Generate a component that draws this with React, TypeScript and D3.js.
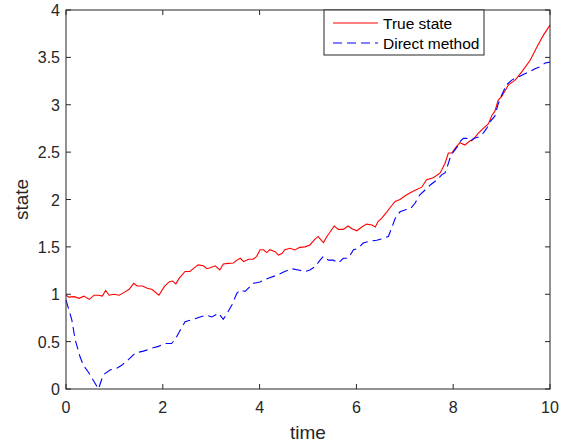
import React from 'react';
import * as d3 from 'd3';

// true state
const trueTime = [0, 0.06, 0.17, 0.27, 0.37, 0.48, 0.58, 0.68, 0.75, 0.82, 0.89, 0.99, 1.1, 1.2, 1.3, 1.4, 1.47, 1.58, 1.68, 1.78, 1.92, 2.03, 2.13, 2.2, 2.27, 2.34, 2.46, 2.56, 2.63, 2.73, 2.84, 2.91, 2.98, 3.08, 3.18, 3.25, 3.35, 3.46, 3.53, 3.6, 3.67, 3.77, 3.87, 3.94, 4.01, 4.08, 4.15, 4.21, 4.32, 4.39, 4.46, 4.52, 4.63, 4.73, 4.83, 4.94, 5.04, 5.14, 5.21, 5.28, 5.32, 5.39, 5.46, 5.54, 5.63, 5.73, 5.83, 5.9, 6.01, 6.11, 6.21, 6.32, 6.39, 6.45, 6.52, 6.63, 6.69, 6.8, 6.9, 7.04, 7.18, 7.35, 7.45, 7.59, 7.73, 7.83, 7.9, 7.97, 8.07, 8.14, 8.24, 8.35, 8.41, 8.52, 8.66, 8.73, 8.8, 8.86, 8.93, 9.0, 9.14, 9.28, 9.42, 9.59, 9.73, 9.87, 10];
const trueState = [0.99, 0.97, 0.975, 0.957, 0.98, 0.946, 0.99, 0.99, 0.98, 1.04, 0.99, 1.0, 0.99, 1.02, 1.05, 1.115, 1.087, 1.087, 1.063, 1.05, 0.99, 1.08, 1.13, 1.14, 1.11, 1.17, 1.24, 1.24, 1.27, 1.31, 1.3, 1.27, 1.28, 1.3, 1.256, 1.32, 1.326, 1.33, 1.36, 1.38, 1.344, 1.37, 1.37, 1.4, 1.47, 1.47, 1.44, 1.47, 1.45, 1.414, 1.43, 1.47, 1.485, 1.467, 1.495, 1.5, 1.52, 1.58, 1.61, 1.565, 1.545, 1.61, 1.66, 1.72, 1.685, 1.685, 1.72, 1.695, 1.67, 1.71, 1.74, 1.73, 1.71, 1.77, 1.8, 1.87, 1.91, 1.98, 2.0, 2.05, 2.09, 2.13, 2.21, 2.23, 2.28, 2.38, 2.49, 2.49, 2.56, 2.6, 2.575, 2.62, 2.63, 2.7, 2.77, 2.8, 2.89, 2.93, 3.05, 3.085, 3.21, 3.26, 3.35, 3.47, 3.61, 3.74, 3.84];

// direct method estimate
const directTime = [0, 0.12, 0.19, 0.29, 0.36, 0.46, 0.56, 0.67, 0.77, 0.91, 1.05, 1.15, 1.29, 1.43, 1.6, 1.77, 1.91, 2.05, 2.18, 2.25, 2.36, 2.46, 2.6, 2.77, 2.91, 3.01, 3.15, 3.25, 3.33, 3.43, 3.53, 3.6, 3.7, 3.8, 3.87, 4.01, 4.18, 4.35, 4.52, 4.66, 4.8, 4.94, 5.04, 5.14, 5.25, 5.32, 5.42, 5.52, 5.63, 5.73, 5.83, 5.94, 6.04, 6.14, 6.28, 6.42, 6.56, 6.66, 6.73, 6.8, 6.9, 7.0, 7.11, 7.21, 7.31, 7.42, 7.52, 7.62, 7.69, 7.76, 7.83, 7.88, 7.93, 8.0, 8.09, 8.14, 8.21, 8.28, 8.35, 8.42, 8.52, 8.62, 8.69, 8.76, 8.86, 8.93, 9.0, 9.1, 9.21, 9.28, 9.38, 9.49, 9.59, 9.69, 9.79, 9.9, 10];
const directState = [0.94, 0.73, 0.52, 0.34, 0.25, 0.18, 0.095, 0.0, 0.15, 0.2, 0.22, 0.25, 0.31, 0.38, 0.4, 0.43, 0.45, 0.48, 0.48, 0.52, 0.62, 0.71, 0.73, 0.76, 0.78, 0.76, 0.8, 0.735, 0.8, 0.89, 1.01, 1.045, 1.03, 1.08, 1.115, 1.13, 1.17, 1.2, 1.24, 1.27, 1.256, 1.24, 1.256, 1.29, 1.36, 1.4, 1.36, 1.36, 1.33, 1.38, 1.38, 1.47, 1.485, 1.54, 1.56, 1.57, 1.59, 1.61, 1.7, 1.8, 1.87, 1.89, 1.9, 1.96, 2.05, 2.1, 2.15, 2.19, 2.22, 2.26, 2.28, 2.35, 2.43, 2.5, 2.56, 2.61, 2.645, 2.645, 2.61, 2.645, 2.66, 2.7, 2.75, 2.82, 2.88, 3.01, 3.1, 3.21, 3.26, 3.28, 3.3, 3.33, 3.35, 3.38, 3.4, 3.44, 3.45];

const xTicks = [0, 2, 4, 6, 8, 10];
const yTicks = [0, 0.5, 1, 1.5, 2, 2.5, 3, 3.5, 4];
const legendLabels = ['True state', 'Direct method'];

const W = 570;
const H = 448;
const m = { left: 66, right: 20, top: 10, bottom: 59 };
const font = 'Liberation Sans, Arial, sans-serif';
const axisColor = '#262626';

const App = () => {
  const x = d3.scaleLinear().domain([0, 10]).range([m.left, W - m.right]);
  const y = d3.scaleLinear().domain([0, 4]).range([H - m.bottom, m.top]);

  const truePath = d3.line<number>()
    .x((d, i) => x(trueTime[i]))
    .y(d => y(d))(trueState);
  const directPath = d3.line<number>()
    .x((d, i) => x(directTime[i]))
    .y(d => y(d))(directState);

  const x0 = x(0), x1 = x(10), y0 = y(0), y1 = y(4);
  const tick = 5;

  return (
    <div style={{ position: 'absolute', left: 0, top: 0 }}>
      <svg width={W} height={H} style={{ display: 'block', background: '#fff' }}>
        <path d={truePath ?? ''} fill="none" stroke="#ff0000" strokeWidth={1.1} />
        <path d={directPath ?? ''} fill="none" stroke="#0000ff" strokeWidth={1.1} strokeDasharray="9,5" />

        {/* box and ticks */}
        <rect x={x0} y={y1} width={x1 - x0} height={y0 - y1} fill="none" stroke={axisColor} strokeWidth={1} />
        {xTicks.map(t => (
          <g key={'x' + t}>
            <line x1={x(t)} x2={x(t)} y1={y0} y2={y0 - tick} stroke={axisColor} />
            <line x1={x(t)} x2={x(t)} y1={y1} y2={y1 + tick} stroke={axisColor} />
            <text x={x(t)} y={y0 + 24} textAnchor="middle" fontFamily={font} fontSize={16} fill={axisColor}>{t}</text>
          </g>
        ))}
        {yTicks.map(t => (
          <g key={'y' + t}>
            <line x1={x0} x2={x0 + tick} y1={y(t)} y2={y(t)} stroke={axisColor} />
            <line x1={x1} x2={x1 - tick} y1={y(t)} y2={y(t)} stroke={axisColor} />
            <text x={x0 - 6} y={y(t) + 6} textAnchor="end" fontFamily={font} fontSize={16} fill={axisColor}>{t}</text>
          </g>
        ))}

        <text x={(x0 + x1) / 2} y={439} textAnchor="middle" fontFamily={font} fontSize={19} fill={axisColor}>time</text>
        <text transform={`translate(28,${(y0 + y1) / 2}) rotate(-90)`} textAnchor="middle" fontFamily={font} fontSize={19} fill={axisColor}>state</text>

        {/* legend */}
        <rect x={324} y={10} width={160} height={45} fill="#fff" stroke={axisColor} strokeWidth={1} />
        {legendLabels.map((lab, i) => (
          <g key={lab}>
            <line x1={333} x2={378} y1={23 + i * 20} y2={23 + i * 20}
              stroke={i === 0 ? '#ff0000' : '#0000ff'} strokeWidth={1.1}
              strokeDasharray={i === 0 ? undefined : '9,5'} />
            <text x={383} y={28.5 + i * 20} fontFamily={font} fontSize={15.5} fill="#000">{lab}</text>
          </g>
        ))}
      </svg>
    </div>
  );
};

export default App;
